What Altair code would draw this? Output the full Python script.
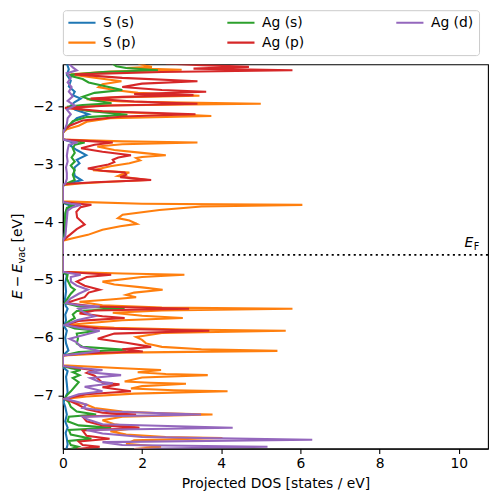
import altair as alt
import pandas as pd

# ---------------- data ----------------
SERIES = ["S (s)", "S (p)", "Ag (s)", "Ag (p)", "Ag (d)"]
COLORS = ["#1f77b4", "#ff7f0e", "#2ca02c", "#d62728", "#9467bd"]

E_FERMI = -4.566
X_TICKS = [0, 2, 4, 6, 8, 10]
Y_TICKS = [-7, -6, -5, -4, -3, -2]
X_RANGE = [0, 10.74]
Y_RANGE = [-7.922, -1.267]

# (energy [eV], projected DOS [states/eV])
S_s = [(-1.25, 0.1), (-1.35, 0.15), (-1.45, 0.1), (-1.55, 0.2), (-1.65, 0.15), (-1.74, 0.3),
       (-1.80, 0.25), (-1.86, 0.45), (-1.92, 0.3), (-1.98, 0.2), (-2.05, 0.3), (-2.13, 0.65),
       (-2.20, 0.35), (-2.30, 0.2), (-2.39, 0.05), (-2.45, 0.0), (-2.56, 0.0), (-2.62, 0.25),
       (-2.68, 0.2), (-2.75, 0.35), (-2.84, 0.59), (-2.92, 0.35), (-2.98, 0.42), (-3.05, 0.3),
       (-3.12, 0.28), (-3.20, 0.3), (-3.27, 0.47), (-3.33, 0.15), (-3.37, 0.0), (-3.65, 0.0),
       (-3.68, 0.05), (-3.71, 0.18), (-3.80, 0.08), (-3.95, 0.06), (-4.10, 0.06), (-4.25, 0.04),
       (-4.32, 0.0), (-4.86, 0.0), (-4.88, 0.03), (-4.92, 0.1), (-5.05, 0.06), (-5.20, 0.08),
       (-5.35, 0.05), (-5.45, 0.07), (-5.50, 0.12), (-5.60, 0.06), (-5.70, 0.08), (-5.80, 0.03),
       (-5.88, 0.1), (-6.00, 0.06), (-6.10, 0.08), (-6.22, 0.14), (-6.31, 0.0), (-6.49, 0.0),
       (-6.52, 0.02), (-6.58, 0.12), (-6.68, 0.08), (-6.80, 0.1), (-6.95, 0.12), (-7.05, 0.05),
       (-7.12, 0.02), (-7.20, 0.06), (-7.33, 0.1), (-7.45, 0.06), (-7.56, 0.12), (-7.65, 0.07),
       (-7.75, 0.1), (-7.85, 0.12), (-7.95, 0.08)]

S_p = [(-1.25, 1.9), (-1.29, 2.1), (-1.31, 2.25), (-1.33, 1.6), (-1.36, 3.0), (-1.39, 1.2),
       (-1.44, 0.2), (-1.50, 0.8), (-1.56, 1.48), (-1.61, 1.0), (-1.66, 0.9), (-1.71, 1.3),
       (-1.76, 1.9), (-1.81, 3.45), (-1.84, 1.2), (-1.87, 0.6), (-1.91, 1.5), (-1.95, 5.0),
       (-1.98, 1.0), (-2.02, 0.15), (-2.08, 0.8), (-2.13, 2.8), (-2.16, 3.75), (-2.20, 1.2),
       (-2.26, 0.6), (-2.33, 0.4), (-2.39, 0.1), (-2.45, 0.0), (-2.57, 0.0), (-2.60, 1.5),
       (-2.62, 3.40), (-2.65, 1.5), (-2.69, 0.87), (-2.75, 1.3), (-2.80, 2.0), (-2.84, 2.6),
       (-2.87, 2.0), (-2.89, 1.85), (-2.93, 1.95), (-2.98, 1.68), (-3.03, 1.2), (-3.10, 0.76),
       (-3.12, 1.2), (-3.14, 1.68), (-3.17, 1.5), (-3.20, 1.39), (-3.23, 1.7), (-3.27, 2.14),
       (-3.30, 1.2), (-3.33, 0.42), (-3.36, 0.0), (-3.64, 0.0), (-3.68, 2.0), (-3.70, 6.05),
       (-3.73, 3.5), (-3.79, 2.44), (-3.87, 1.51), (-3.93, 1.39), (-3.97, 1.68), (-4.03, 1.87),
       (-4.07, 1.45), (-4.13, 1.0), (-4.22, 0.63), (-4.28, 0.25), (-4.32, 0.0), (-4.86, 0.0),
       (-4.89, 1.5), (-4.91, 3.07), (-4.95, 2.0), (-5.03, 1.0), (-5.08, 1.3), (-5.13, 2.0),
       (-5.17, 2.52), (-5.22, 1.8), (-5.26, 1.6), (-5.30, 1.85), (-5.34, 1.2), (-5.38, 0.42),
       (-5.44, 1.0), (-5.48, 2.5), (-5.50, 5.8), (-5.53, 2.5), (-5.57, 1.26), (-5.62, 2.0),
       (-5.66, 3.03), (-5.70, 1.5), (-5.78, 0.1), (-5.83, 1.3), (-5.86, 3.0), (-5.88, 5.63),
       (-5.92, 2.5), (-5.99, 1.85), (-6.04, 2.0), (-6.10, 2.1), (-6.16, 2.5), (-6.20, 3.5),
       (-6.23, 5.42), (-6.26, 1.5), (-6.31, 0.0), (-6.48, 0.0), (-6.53, 1.5), (-6.56, 2.48),
       (-6.60, 1.89), (-6.63, 2.6), (-6.65, 3.66), (-6.69, 2.0), (-6.76, 1.56), (-6.78, 2.2),
       (-6.80, 3.11), (-6.84, 2.0), (-6.88, 1.72), (-6.91, 2.8), (-6.93, 4.16), (-6.97, 1.8),
       (-7.02, 0.6), (-7.06, 0.1), (-7.12, 0.3), (-7.16, 0.59), (-7.22, 0.8), (-7.28, 1.5),
       (-7.31, 2.5), (-7.33, 3.78), (-7.37, 1.5), (-7.43, 1.0), (-7.50, 1.3), (-7.56, 1.93),
       (-7.62, 1.2), (-7.68, 1.6), (-7.72, 2.6), (-7.74, 4.03), (-7.78, 1.8), (-7.84, 1.6),
       (-7.89, 2.48), (-7.93, 1.8)]

Ag_s = [(-1.25, 1.25), (-1.30, 1.35), (-1.33, 1.6), (-1.37, 2.4), (-1.40, 1.0), (-1.45, 0.1),
        (-1.52, 0.5), (-1.58, 0.65), (-1.65, 1.1), (-1.71, 1.5), (-1.76, 0.8), (-1.83, 0.5),
        (-1.88, 0.7), (-1.94, 1.23), (-1.97, 0.5), (-2.00, 0.1), (-2.07, 0.6), (-2.14, 1.63),
        (-2.18, 0.6), (-2.25, 0.25), (-2.33, 0.15), (-2.40, 0.05), (-2.45, 0.0), (-2.57, 0.0),
        (-2.60, 0.3), (-2.62, 0.55), (-2.66, 0.3), (-2.72, 0.25), (-2.80, 0.3), (-2.88, 0.22),
        (-2.95, 0.3), (-3.02, 0.2), (-3.10, 0.3), (-3.18, 0.25), (-3.27, 0.3), (-3.33, 0.1),
        (-3.36, 0.0), (-3.65, 0.0), (-3.69, 0.15), (-3.71, 0.3), (-3.75, 0.1), (-3.85, 0.06),
        (-4.00, 0.05), (-4.15, 0.06), (-4.28, 0.03), (-4.32, 0.0), (-4.87, 0.0), (-4.91, 0.12),
        (-4.98, 0.1), (-5.05, 0.15), (-5.12, 0.2), (-5.17, 0.3), (-5.24, 0.2), (-5.32, 0.12),
        (-5.40, 0.05), (-5.46, 0.4), (-5.50, 1.56), (-5.54, 0.35), (-5.60, 0.25), (-5.66, 0.3),
        (-5.72, 0.15), (-5.78, 0.05), (-5.84, 0.3), (-5.88, 0.86), (-5.93, 0.35), (-6.02, 0.38),
        (-6.10, 0.35), (-6.16, 0.5), (-6.21, 1.6), (-6.25, 0.4), (-6.31, 0.0), (-6.49, 0.0),
        (-6.53, 0.2), (-6.56, 0.45), (-6.60, 0.25), (-6.65, 0.42), (-6.70, 0.25), (-6.77, 0.4),
        (-6.85, 0.3), (-6.93, 0.2), (-7.00, 0.1), (-7.06, 0.05), (-7.12, 0.15), (-7.20, 0.2),
        (-7.28, 0.35), (-7.33, 0.84), (-7.37, 0.15), (-7.45, 0.12), (-7.52, 0.4), (-7.56, 1.22),
        (-7.60, 0.15), (-7.68, 0.2), (-7.75, 0.72), (-7.79, 0.15), (-7.86, 0.2), (-7.89, 0.38),
        (-7.93, 0.2)]

Ag_p = [(-1.25, 2.6), (-1.28, 3.5), (-1.31, 4.7), (-1.34, 3.3), (-1.37, 5.8), (-1.40, 2.5),
        (-1.44, 0.3), (-1.50, 1.5), (-1.56, 3.4), (-1.60, 2.0), (-1.66, 1.5), (-1.71, 2.5),
        (-1.74, 3.62), (-1.78, 1.8), (-1.80, 3.3), (-1.83, 1.5), (-1.86, 0.7), (-1.91, 1.8),
        (-1.95, 3.4), (-1.98, 1.2), (-2.02, 0.05), (-2.08, 1.0), (-2.13, 3.35), (-2.17, 1.5),
        (-2.24, 0.5), (-2.32, 0.2), (-2.39, 0.05), (-2.45, 0.0), (-2.57, 0.0), (-2.60, 0.8),
        (-2.62, 1.26), (-2.66, 0.8), (-2.72, 0.46), (-2.78, 1.0), (-2.84, 1.72), (-2.88, 1.4),
        (-2.92, 1.26), (-2.96, 1.3), (-3.00, 1.15), (-3.07, 0.63), (-3.11, 1.0), (-3.14, 1.56),
        (-3.18, 1.6), (-3.22, 1.45), (-3.27, 2.23), (-3.31, 0.8), (-3.34, 0.05), (-3.37, 0.0),
        (-3.65, 0.0), (-3.68, 0.4), (-3.70, 0.72), (-3.74, 0.45), (-3.82, 0.34), (-3.92, 0.36),
        (-4.04, 0.55), (-4.12, 0.35), (-4.25, 0.12), (-4.32, 0.0), (-4.86, 0.0), (-4.89, 0.7),
        (-4.91, 1.22), (-4.95, 0.6), (-5.03, 0.35), (-5.10, 0.55), (-5.17, 0.93), (-5.22, 0.65),
        (-5.30, 0.55), (-5.40, 0.08), (-5.46, 0.8), (-5.50, 3.19), (-5.53, 0.8), (-5.58, 0.42),
        (-5.63, 1.0), (-5.66, 1.56), (-5.71, 0.4), (-5.78, 0.05), (-5.84, 0.9), (-5.88, 3.7),
        (-5.93, 1.3), (-6.02, 0.88), (-6.09, 1.6), (-6.16, 2.23), (-6.20, 1.5), (-6.24, 2.02),
        (-6.27, 0.6), (-6.31, 0.0), (-6.49, 0.0), (-6.53, 0.4), (-6.56, 0.76), (-6.61, 0.6),
        (-6.66, 0.8), (-6.72, 0.9), (-6.78, 1.0), (-6.81, 1.43), (-6.86, 1.0), (-6.93, 1.72),
        (-6.98, 0.6), (-7.06, 0.05), (-7.15, 0.35), (-7.24, 0.6), (-7.30, 1.0), (-7.33, 1.85),
        (-7.37, 0.5), (-7.45, 0.6), (-7.52, 1.0), (-7.56, 1.93), (-7.61, 0.5), (-7.70, 0.6),
        (-7.75, 1.18), (-7.80, 0.4), (-7.86, 0.5), (-7.89, 0.93), (-7.93, 0.35)]

Ag_d = [(-1.25, 0.15), (-1.32, 0.25), (-1.37, 0.35), (-1.42, 0.1), (-1.50, 0.2), (-1.58, 0.12),
        (-1.66, 0.22), (-1.74, 0.15), (-1.82, 0.25), (-1.90, 0.12), (-1.98, 0.3), (-2.05, 0.1),
        (-2.13, 0.2), (-2.20, 0.12), (-2.30, 0.1), (-2.39, 0.05), (-2.45, 0.0), (-2.57, 0.0),
        (-2.60, 0.2), (-2.62, 0.37), (-2.66, 0.15), (-2.75, 0.12), (-2.85, 0.1), (-2.95, 0.12),
        (-3.05, 0.08), (-3.15, 0.1), (-3.25, 0.1), (-3.33, 0.06), (-3.36, 0.0), (-3.65, 0.0),
        (-3.68, 0.2), (-3.70, 0.46), (-3.74, 0.25), (-3.80, 0.12), (-3.95, 0.1), (-4.10, 0.08),
        (-4.25, 0.06), (-4.32, 0.0), (-4.86, 0.0), (-4.88, 0.15), (-4.91, 0.45), (-4.95, 0.2),
        (-5.03, 0.2), (-5.10, 0.35), (-5.17, 0.63), (-5.24, 0.4), (-5.32, 0.2), (-5.40, 0.08),
        (-5.44, 0.4), (-5.46, 0.93), (-5.50, 0.4), (-5.57, 0.55), (-5.63, 0.8), (-5.70, 0.35),
        (-5.78, 0.05), (-5.84, 0.5), (-5.88, 0.93), (-5.94, 0.6), (-6.02, 0.17), (-6.08, 0.35),
        (-6.16, 0.45), (-6.23, 0.93), (-6.27, 0.5), (-6.31, 0.0), (-6.49, 0.0), (-6.53, 0.5),
        (-6.56, 1.0), (-6.60, 0.63), (-6.65, 1.47), (-6.70, 0.7), (-6.76, 0.9), (-6.79, 1.26),
        (-6.85, 0.55), (-6.93, 1.0), (-6.98, 0.4), (-7.06, 0.05), (-7.12, 0.4), (-7.16, 0.6),
        (-7.22, 0.5), (-7.28, 1.2), (-7.33, 3.49), (-7.37, 0.5), (-7.42, 0.63), (-7.50, 1.0),
        (-7.56, 4.29), (-7.60, 0.6), (-7.66, 1.0), (-7.72, 2.0), (-7.77, 6.3), (-7.81, 1.0),
        (-7.86, 1.5), (-7.89, 5.17), (-7.93, 1.8)]

SERIES_POINTS = [S_s, S_p, Ag_s, Ag_p, Ag_d]

# ---------------- chart ----------------
FONT = "DejaVu Sans"
FS = 13.9
W, H = 426, 385

xscale = alt.Scale(domain=X_RANGE, nice=False, zero=False)
yscale = alt.Scale(domain=Y_RANGE, nice=False, zero=False)

xaxis = alt.Axis(values=X_TICKS, format="d", title="Projected DOS [states / eV]", grid=False,
                 tickSize=4.86, tickWidth=1.1, tickColor="black", domainColor="black",
                 domainWidth=1.1, labelFont=FONT, labelFontSize=FS, labelColor="black",
                 labelPadding=3.0, labelFlush=False, titleFont=FONT, titleFontSize=FS,
                 titleFontWeight="normal", titleColor="black", titlePadding=6)
yaxis = alt.Axis(values=Y_TICKS, format="d", title=None, grid=False,
                 tickSize=4.86, tickWidth=1.1, tickColor="black", domainColor="black",
                 domainWidth=1.1, labelFont=FONT, labelFontSize=FS, labelColor="black",
                 labelPadding=4.86, labelFlush=False)

legend = alt.Legend(orient="none", legendX=0, legendY=-54.3, columns=3, title=None,
                    symbolType="stroke", symbolSize=841, symbolStrokeWidth=2.08,
                    symbolOffset=-3.3, clipHeight=14,
                    labelFont=FONT, labelFontSize=FS, labelColor="black", labelOffset=6,
                    columnPadding=91.3, rowPadding=6, padding=5.5, fillColor="white",
                    strokeColor="#cccccc", cornerRadius=3)

cscale = alt.Scale(domain=SERIES, range=COLORS)

layers = []
for name, pts in zip(SERIES, SERIES_POINTS):
    df = pd.DataFrame(pts, columns=["E", "dos"])
    df["series"] = name
    df["idx"] = range(len(df))
    layers.append(
        alt.Chart(df).mark_line(strokeWidth=2.08, clip=True).encode(
            x=alt.X("dos:Q", scale=xscale, axis=xaxis),
            y=alt.Y("E:Q", scale=yscale, axis=yaxis),
            color=alt.Color("series:N", scale=cscale, legend=legend),
            order=alt.Order("idx:Q"),
        )
    )

fermi = alt.Chart(pd.DataFrame({"E": [E_FERMI]})).mark_rule(
    color="black", strokeWidth=1.6, strokeDash=[2.08, 3.44], strokeCap="butt"
).encode(y=alt.Y("E:Q", scale=yscale))


def text_piece(txt, x, y, size, italic, angle=0):
    kw = dict(font=FONT, fontSize=size, color="black", align="left",
              baseline="alphabetic", text=txt)
    if italic:
        kw["fontStyle"] = "italic"
    if angle:
        kw["angle"] = angle
    return alt.Chart(pd.DataFrame({"k": [0]})).mark_text(**kw).encode(
        x=alt.value(x), y=alt.value(y))


ef_y = (Y_RANGE[1] - E_FERMI) / (Y_RANGE[1] - Y_RANGE[0]) * H
texts = [
    text_piece("E", 402.5, ef_y - 7.5, FS, True),
    text_piece("F", 411.8, ef_y - 4.5, 9.7, False),
    # y-axis label:  E − E_vac [eV]
    text_piece("E", -41.0, 235.2, FS, True, 270),
    text_piece("\u2212", -41.0, 223.4, FS, False, 270),
    text_piece("E", -41.0, 208.8, FS, True, 270),
    text_piece("vac", -38.0, 199.6, 9.7, False, 270),
    text_piece("[eV]", -41.0, 178.5, FS, False, 270),
]

chart = alt.layer(*layers, fermi, *texts).properties(
    width=W, height=H,
    autosize=alt.AutoSizeParams(type="none"),
    padding={"left": 55, "top": 56, "right": 2, "bottom": 46},
).configure_view(stroke="black", strokeWidth=1.1)

chart.save("out.html", embed_options={"renderer": "svg", "actions": False})
